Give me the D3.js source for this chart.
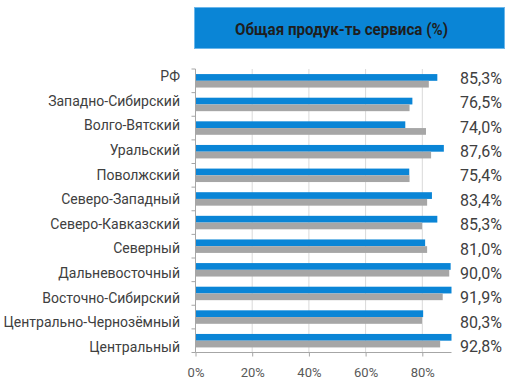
<!DOCTYPE html>
<html>
<head>
<meta charset="utf-8">
<script src="https://cdn.jsdelivr.net/npm/d3@7"></script>
<style>
  html, body { margin: 0; padding: 0; background: #fff; }
  svg { display: block; font-family: Roboto, "Noto Sans", sans-serif; }
</style>
</head>
<body>
<svg id="chart" width="511" height="384"></svg>
<script>
// regions, top to bottom as drawn
var regions = ["РФ", "Западно-Сибирский", "Волго-Вятский", "Уральский", "Поволжский",
  "Северо-Западный", "Северо-Кавказский", "Северный", "Дальневосточный",
  "Восточно-Сибирский", "Центрально-Чернозёмный", "Центральный"];

// current period (blue, labelled) and previous period (grey)
var current  = [85.3, 76.5, 74.0, 87.6, 75.4, 83.4, 85.3, 81.0, 90.0, 91.9, 80.3, 92.8];
var previous = [82.3, 75.5, 81.3, 83.1, 75.5, 81.7, 79.9, 81.7, 89.5, 87.2, 79.9, 86.3];

var xTicks = [0, 20, 40, 60, 80];
var title = "Общая продук-ть сервиса (%)";

(function () {
  var svg = d3.select("#chart");
  var plotTop = 69, plotBottom = 352.5, left = 195.5;

  var x = d3.scaleLinear().domain([0, 100]).range([left, 479]);
  var y = d3.scaleBand().domain(regions).range([plotTop, plotBottom]).paddingInner(0.43).paddingOuter(0.215);
  var ySub = d3.scaleBand().domain(["cur", "prev"]).range([0, y.bandwidth()]);
  // labels sit on their own slightly wider rhythm
  var yLab = d3.scalePoint().domain(regions).range([81, 352]);
  var yVal = d3.scalePoint().domain(regions).range([84, 352]);

  // title box
  svg.append("rect").attr("x", 194.5).attr("y", 7.5).attr("width", 310).attr("height", 41)
    .attr("fill", "#0A85D6").attr("stroke", "#6BB6EA").attr("stroke-width", 1);
  svg.append("text").attr("x", 341.5).attr("y", 35).attr("text-anchor", "middle")
    .attr("font-size", 17).attr("font-weight", "bold").attr("fill", "#1E1E1E")
    .attr("textLength", 213).attr("lengthAdjust", "spacingAndGlyphs").text(title);

  // gridlines
  svg.append("g").selectAll("line").data(xTicks.slice(1)).join("line")
    .attr("x1", function (d) { return x(d); }).attr("x2", function (d) { return x(d); })
    .attr("y1", plotTop).attr("y2", plotBottom).attr("stroke", "#D9D9D9").attr("stroke-width", 1);

  // bars, clipped at the right edge of the plot
  svg.append("clipPath").attr("id", "plotclip").append("rect")
    .attr("x", left).attr("y", plotTop).attr("width", x(90.3) - left).attr("height", plotBottom - plotTop);
  var gBars = svg.append("g").attr("clip-path", "url(#plotclip)");
  gBars.selectAll("rect.cur").data(regions).join("rect").attr("class", "cur")
    .attr("x", left).attr("y", function (d) { return y(d) + ySub("cur"); })
    .attr("width", function (d, i) { return x(current[i]) - left; })
    .attr("height", ySub.bandwidth()).attr("fill", "#0A85D6");
  gBars.selectAll("rect.prev").data(regions).join("rect").attr("class", "prev")
    .attr("x", left).attr("y", function (d) { return y(d) + ySub("prev"); })
    .attr("width", function (d, i) { return x(previous[i]) - left; })
    .attr("height", ySub.bandwidth()).attr("fill", "#A6A6A6");

  // bottom axis
  var xAxis = svg.append("g").attr("transform", "translate(0," + plotBottom + ")")
    .call(d3.axisBottom(x).tickValues(xTicks).tickSize(4).tickFormat(function (d) { return d + "%"; }));
  xAxis.select(".domain").attr("d", "M" + left + ",0H" + x(90.3)).attr("stroke", "#A6A6A6");
  xAxis.selectAll(".tick line").attr("stroke", "#A6A6A6");
  xAxis.selectAll(".tick text").attr("font-size", 13).attr("fill", "#595959")
    .attr("font-family", "Roboto, sans-serif").attr("y", 24).attr("dy", 0);

  // left axis with ticks at category boundaries
  var bounds = regions.map(function (d) { return y(d) - y.step() * y.paddingInner() / 2; });
  bounds[0] = plotTop;
  bounds.push(plotBottom);
  svg.append("line").attr("x1", left).attr("x2", left).attr("y1", plotTop).attr("y2", plotBottom)
    .attr("stroke", "#A6A6A6");
  svg.append("g").selectAll("line").data(bounds).join("line")
    .attr("x1", left - 4).attr("x2", left).attr("y1", function (d) { return d; })
    .attr("y2", function (d) { return d; }).attr("stroke", "#A6A6A6");

  // category labels
  svg.append("g").selectAll("text").data(regions).join("text")
    .attr("x", 180).attr("y", function (d) { return yLab(d); }).attr("text-anchor", "end")
    .attr("font-size", 14).attr("fill", "#404040").text(function (d) { return d; });

  // value labels
  svg.append("g").selectAll("text").data(regions).join("text")
    .attr("x", 460).attr("y", function (d) { return yVal(d); })
    .attr("font-size", 16).attr("fill", "#404040")
    .text(function (d, i) { return current[i].toFixed(1).replace(".", ",") + "%"; });
})();
</script>
</body>
</html>
